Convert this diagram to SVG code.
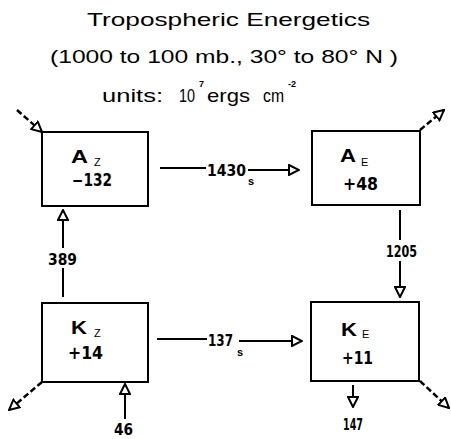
<svg xmlns="http://www.w3.org/2000/svg" width="451" height="439" viewBox="0 0 451 439">
<defs>
<style>
.title{font-family:"Liberation Sans",Arial,sans-serif;font-size:19px;fill:#000}
.sup{font-family:"Liberation Sans",Arial,sans-serif;font-size:9px;font-weight:bold;fill:#000}
.box{fill:#fff;stroke:#000;stroke-width:2}
.big{font-family:"Liberation Sans",Arial,sans-serif;font-size:19px;font-weight:bold;fill:#000}
.sub{font-family:"Liberation Sans",Arial,sans-serif;font-size:11px;fill:#000}
.num{font-family:"Liberation Sans Narrow","DejaVu Sans Condensed","Liberation Sans",sans-serif;font-size:17px;font-weight:bold;fill:#000}
.lab{font-family:"Liberation Sans Narrow","DejaVu Sans Condensed","Liberation Sans",sans-serif;font-size:16px;font-weight:bold;fill:#000}
.ssub{font-family:"Liberation Sans",Arial,sans-serif;font-size:11px;font-weight:bold;fill:#000}
.ln{fill:none;stroke:#000;stroke-width:2}
.dash{fill:none;stroke:#000;stroke-width:2.5;stroke-dasharray:6 3}
</style>
<marker id="tri" viewBox="0 0 12 12" markerWidth="12" markerHeight="12" refX="11" refY="6" orient="auto" markerUnits="userSpaceOnUse">
<path d="M1,1 L11,6 L1,11 Z" fill="#fff" stroke="#000" stroke-width="2" stroke-linejoin="miter"/>
</marker>
</defs>
<rect width="451" height="439" fill="#fff"/>
<g id="title">
<text class="title" x="87" y="26" textLength="283" lengthAdjust="spacingAndGlyphs">Tropospheric Energetics</text>
<text class="title" x="50" y="63" textLength="348" lengthAdjust="spacingAndGlyphs">(1000 to 100 mb., 30° to 80° N )</text>
<text class="title" x="102" y="102" textLength="61" lengthAdjust="spacingAndGlyphs">units:</text>
<text class="title" x="179" y="102" textLength="16" lengthAdjust="spacingAndGlyphs">10</text>
<text class="sup" x="199" y="87">7</text>
<text class="title" x="207" y="102" textLength="43" lengthAdjust="spacingAndGlyphs">ergs</text>
<text class="title" x="263" y="102" textLength="21" lengthAdjust="spacingAndGlyphs">cm</text>
<text class="sup" x="288" y="87">-2</text>
</g>
<g id="connectors">
<line class="ln" x1="160" y1="168" x2="206" y2="168"/>
<text class="lab" x="207" y="176" textLength="39" lengthAdjust="spacingAndGlyphs">1430</text>
<text class="ssub" x="248" y="185">s</text>
<line class="ln" x1="248" y1="170" x2="299" y2="170" marker-end="url(#tri)"/>
<line class="ln" x1="157" y1="339" x2="207" y2="339"/>
<text class="lab" x="208" y="346" textLength="25" lengthAdjust="spacingAndGlyphs">137</text>
<text class="ssub" x="237" y="356">s</text>
<line class="ln" x1="239" y1="341" x2="302" y2="341" marker-end="url(#tri)"/>
<line class="ln" x1="63" y1="297" x2="63" y2="268"/>
<text class="lab" x="48" y="265" textLength="29" lengthAdjust="spacingAndGlyphs">389</text>
<line class="ln" x1="63" y1="248" x2="63" y2="210" marker-end="url(#tri)"/>
<line class="ln" x1="400" y1="210" x2="400" y2="240"/>
<text class="lab" x="386" y="257" textLength="31" lengthAdjust="spacingAndGlyphs">1205</text>
<line class="ln" x1="400" y1="261" x2="400" y2="297" marker-end="url(#tri)"/>
<line class="ln" x1="125" y1="419" x2="125" y2="384" marker-end="url(#tri)"/>
<text class="lab" x="114" y="435" textLength="19" lengthAdjust="spacingAndGlyphs">46</text>
<line class="ln" x1="353" y1="385" x2="353" y2="407" marker-end="url(#tri)"/>
<text class="lab" x="343" y="430" textLength="20" lengthAdjust="spacingAndGlyphs">147</text>
<line class="dash" x1="17" y1="110" x2="42" y2="132" marker-end="url(#tri)"/>
<line class="dash" x1="420" y1="130" x2="444" y2="110" marker-end="url(#tri)"/>
<line class="dash" x1="42" y1="382" x2="9" y2="410" marker-end="url(#tri)"/>
<line class="dash" x1="420" y1="381" x2="449" y2="408" marker-end="url(#tri)"/>
</g>
<g id="Az">
<rect class="box" x="42" y="132" width="106" height="74"/>
<text class="big" x="71" y="163" textLength="17" lengthAdjust="spacingAndGlyphs">A</text>
<text class="sub" x="94" y="166">Z</text>
<text class="num" x="72" y="186" textLength="40" lengthAdjust="spacingAndGlyphs">−132</text>
</g>
<g id="Ae">
<rect class="box" x="312" y="131" width="108" height="74"/>
<text class="big" x="340" y="162" textLength="16" lengthAdjust="spacingAndGlyphs">A</text>
<text class="sub" x="361" y="166">E</text>
<text class="num" x="343" y="190" textLength="35" lengthAdjust="spacingAndGlyphs">+48</text>
</g>
<g id="Kz">
<rect class="box" x="42" y="303" width="106" height="79"/>
<text class="big" x="71" y="334" textLength="16" lengthAdjust="spacingAndGlyphs">K</text>
<text class="sub" x="94" y="337">Z</text>
<text class="num" x="68" y="359" textLength="35" lengthAdjust="spacingAndGlyphs">+14</text>
</g>
<g id="Ke">
<rect class="box" x="311" y="302" width="108" height="79"/>
<text class="big" x="341" y="336" textLength="16" lengthAdjust="spacingAndGlyphs">K</text>
<text class="sub" x="362" y="338">E</text>
<text class="num" x="342" y="364" textLength="31" lengthAdjust="spacingAndGlyphs">+11</text>
</g>
</svg>
